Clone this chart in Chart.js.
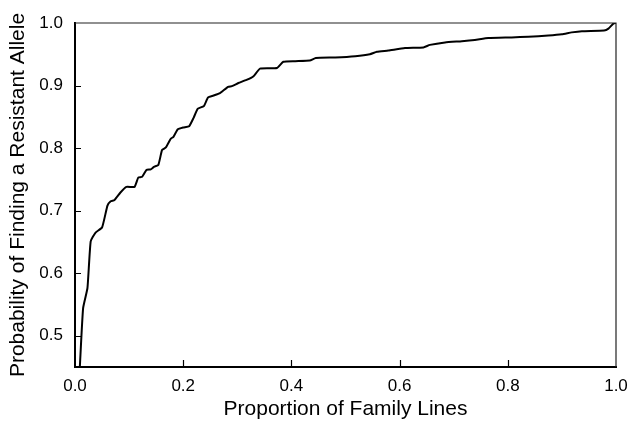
<!DOCTYPE html>
<html>
<head>
<meta charset="utf-8">
<script src="https://cdn.jsdelivr.net/npm/chart.js@4.4.1/dist/chart.umd.min.js"></script>
<style>
  html, body { margin: 0; padding: 0; background: #fff; }
  #wrap { width: 629px; height: 427px; }
</style>
</head>
<body>
<div id="wrap"><canvas id="chart" width="629" height="427"></canvas></div>
<script>
// --- DATA ---
const propFamilyLines = [
    0.009, 0.015, 0.023, 0.029, 0.038, 0.050, 0.060, 0.066, 0.073, 0.084,
    0.095, 0.110, 0.117, 0.124, 0.132, 0.140, 0.146, 0.154, 0.161, 0.168,
    0.177, 0.182, 0.190, 0.200, 0.211, 0.219, 0.227, 0.238, 0.246, 0.256,
    0.268, 0.283, 0.290, 0.302, 0.317, 0.330, 0.342, 0.373, 0.385, 0.407,
    0.434, 0.445, 0.481, 0.518, 0.545, 0.558, 0.579, 0.610, 0.644, 0.656,
    0.684, 0.715, 0.739, 0.764, 0.807, 0.838, 0.875, 0.900, 0.918, 0.937,
    0.978, 0.986, 0.995, 1.000
];
const probResistant = [
    0.451, 0.544, 0.576, 0.651, 0.665, 0.673, 0.708, 0.715, 0.717, 0.729,
    0.738, 0.738, 0.753, 0.754, 0.765, 0.766, 0.770, 0.773, 0.797, 0.801,
    0.815, 0.818, 0.830, 0.833, 0.835, 0.848, 0.863, 0.867, 0.881, 0.884,
    0.888, 0.898, 0.899, 0.904, 0.909, 0.915, 0.927, 0.928, 0.938, 0.939,
    0.940, 0.944, 0.945, 0.947, 0.950, 0.954, 0.956, 0.960, 0.961, 0.965,
    0.969, 0.971, 0.973, 0.976, 0.977, 0.978, 0.980, 0.982, 0.985, 0.987,
    0.988, 0.991, 0.999, 1.000
];
const xTickValues = [0, 0.2, 0.4, 0.6, 0.8, 1.0];
const yTickValues = [0.5, 0.6, 0.7, 0.8, 0.9, 1.0];

const FONT = "'Liberation Sans', Arial, sans-serif";

// frame (top/right) + inward tick marks
const framePlugin = {
    id: 'frame',
    afterDraw(chart) {
        const { ctx, chartArea: a, scales: { x, y } } = chart;
        ctx.save();
        ctx.strokeStyle = '#222';
        ctx.lineWidth = 1.2;
        ctx.beginPath();
        ctx.moveTo(a.left, a.top);
        ctx.lineTo(a.right, a.top);
        ctx.lineTo(a.right, a.bottom);
        ctx.stroke();

        ctx.strokeStyle = '#000';
        ctx.lineWidth = 1.2;
        ctx.beginPath();
        xTickValues.slice(1, -1).forEach(v => {
            const px = Math.round(x.getPixelForValue(v)) + 0.5;
            ctx.moveTo(px, a.bottom);
            ctx.lineTo(px, a.bottom - 7);
        });
        yTickValues.slice(0, -1).forEach(v => {
            const py = Math.round(y.getPixelForValue(v)) + 0.5;
            ctx.moveTo(a.left, py);
            ctx.lineTo(a.left + 6, py);
        });
        ctx.stroke();
        ctx.restore();
    }
};

new Chart(document.getElementById('chart'), {
    type: 'scatter',
    data: {
        datasets: [{
            data: propFamilyLines.map((p, i) => ({ x: p, y: probResistant[i] })),
            showLine: true,
            borderColor: '#000',
            borderWidth: 2,
            pointRadius: 0,
            tension: 0.15,
            fill: false
        }]
    },
    options: {
        responsive: false,
        animation: false,
        layout: { padding: { top: 23, right: 13, left: 0, bottom: 0 } },
        plugins: { legend: { display: false }, tooltip: { enabled: false } },
        scales: {
            x: {
                type: 'linear',
                min: 0,
                max: 1,
                afterBuildTicks: s => { s.ticks = xTickValues.map(v => ({ value: v })); },
                afterFit: s => { s.height = 60; s.paddingLeft = 0; s.paddingRight = 0; },
                grid: { display: false, drawTicks: false },
                border: { display: true, color: '#000', width: 2 },
                ticks: {
                    padding: 9,
                    color: '#000',
                    font: { family: FONT, size: 17 },
                    maxRotation: 0,
                    callback: v => v.toFixed(1)
                },
                title: {
                    display: true,
                    text: 'Proportion of Family Lines',
                    color: '#000',
                    font: { family: FONT, size: 21 },
                    padding: { top: 0, bottom: 5 }
                }
            },
            y: {
                type: 'linear',
                min: 0.45,
                max: 1.0,
                afterBuildTicks: s => { s.ticks = yTickValues.map(v => ({ value: v })); },
                afterFit: s => { s.width = 75; s.paddingTop = 0; s.paddingBottom = 0; },
                grid: { display: false, drawTicks: false },
                border: { display: true, color: '#000', width: 2 },
                ticks: {
                    padding: 12,
                    color: '#000',
                    font: { family: FONT, size: 17 },
                    callback: v => v.toFixed(1)
                },
                title: {
                    display: true,
                    text: 'Probability of Finding a Resistant Allele',
                    color: '#000',
                    font: { family: FONT, size: 21 },
                    padding: { top: 6, bottom: 0 }
                }
            }
        }
    },
    plugins: [framePlugin]
});
</script>
</body>
</html>
